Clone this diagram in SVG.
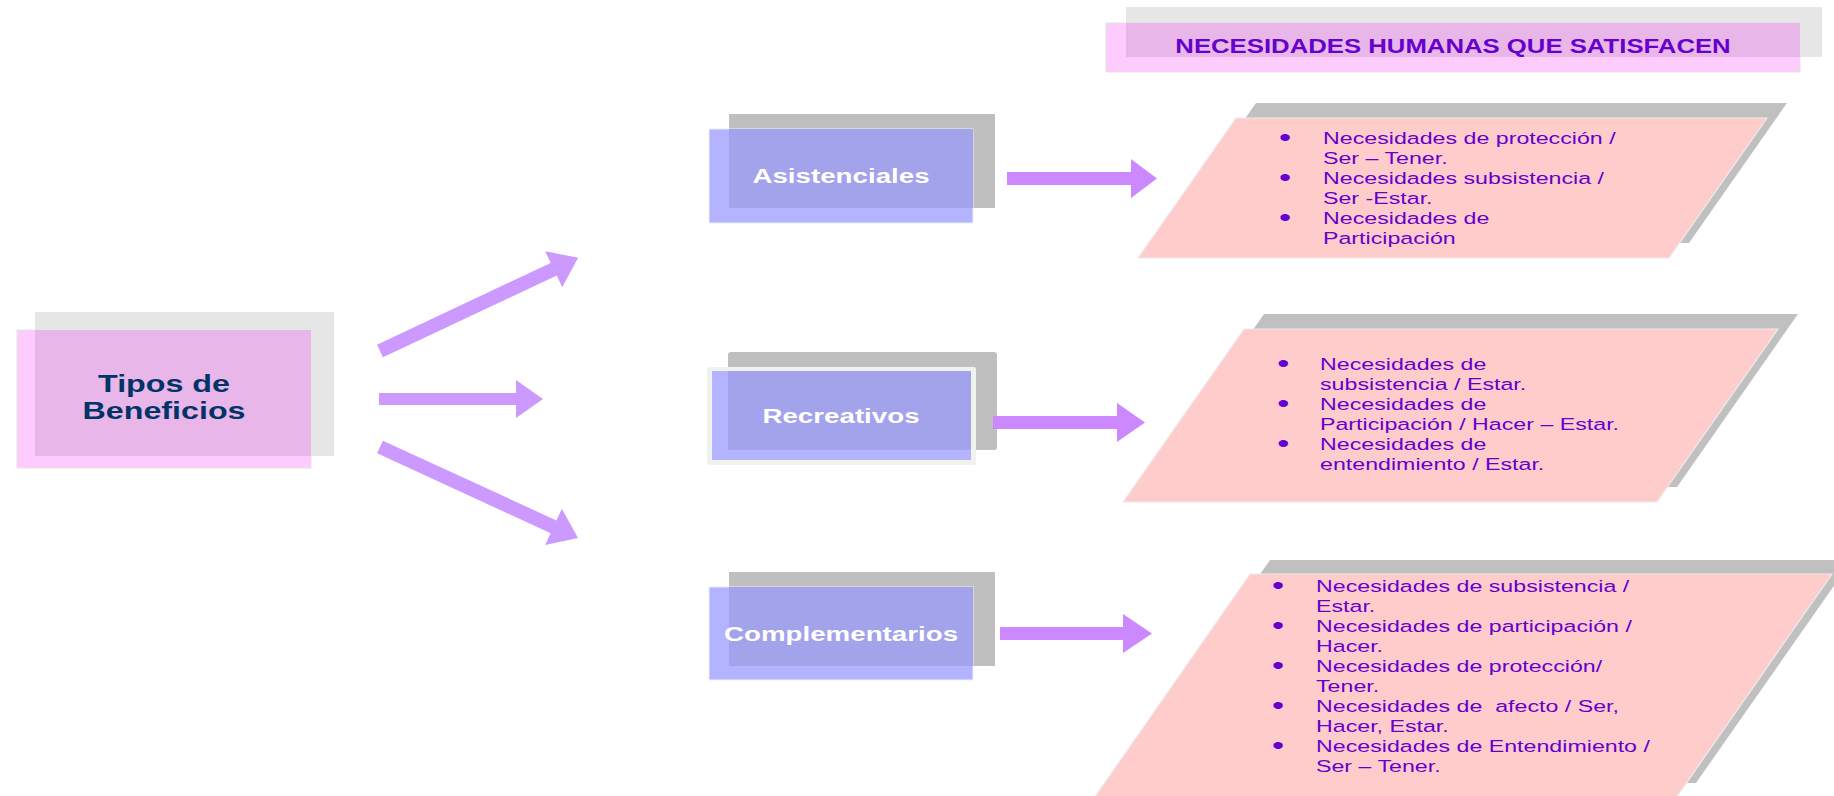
<svg xmlns="http://www.w3.org/2000/svg" width="1834" height="796" viewBox="0 0 1834 796">
<style>
text{font-family:"Liberation Sans",Arial,sans-serif}
.gl{fill:#e6e6e6}
.gd{fill:#bfbfbf}
.pl{fill:#fdcbfd;stroke:#e4e4e4;stroke-width:1}
.po{fill:#e8b6e8}
.bl{fill:#b3b3ff;stroke:#eeeefa;stroke-width:1}
.bo{fill:#a3a3eb}
.lbl{font-size:20.8px;font-weight:bold;fill:#ffffff}
.para{fill:#ffcccc;stroke:#ececec;stroke-width:1.2}
.sh{fill:#c0c0c0}
.bt{font-size:17.4px;fill:#6600cc}
.bu{font-size:26px;fill:#6600cc;text-anchor:middle}
.al{fill:#cc99ff}
.ar{fill:#cc88ff}
</style>

<g id="title">
<rect class="gl" x="1126" y="7" width="696" height="50"/>
<rect class="pl" x="1106" y="23" width="694" height="49"/>
<rect class="po" x="1126" y="23" width="674" height="34"/>
<text transform="translate(1453,53) scale(1.333,1)" text-anchor="middle" font-size="19.3" font-weight="bold" fill="#6600cc">NECESIDADES HUMANAS QUE SATISFACEN</text>
</g>

<g id="tipos">
<rect class="gl" x="35" y="312" width="299" height="144"/>
<rect class="pl" x="17" y="330" width="294" height="138"/>
<rect class="po" x="35" y="330" width="276" height="126"/>
<g transform="translate(164,0) scale(1.333,1)" font-size="24.2" font-weight="bold" fill="#003366" text-anchor="middle">
<text x="0" y="392">Tipos de</text>
<text x="0" y="419">Beneficios</text>
</g>
</g>

<g id="asistenciales">
<rect class="gd" x="729" y="114" width="266" height="94"/>
<rect class="bl" x="709" y="129" width="264" height="94"/>
<rect class="bo" x="729" y="129" width="244" height="79"/>
<text class="lbl" transform="translate(841,183) scale(1.333,1)" text-anchor="middle">Asistenciales</text>
</g>

<g id="recreativos">
<rect class="gd" x="728" y="352" width="269" height="98" rx="3"/>
<rect x="707" y="367" width="269" height="98" rx="2" fill="#f0f2ec"/>
<rect x="712" y="371" width="259" height="89" fill="#b3b3ff"/>
<rect class="bo" x="728" y="371" width="243" height="79"/>
<text class="lbl" transform="translate(841,423) scale(1.333,1)" text-anchor="middle">Recreativos</text>
</g>

<g id="complementarios">
<rect class="gd" x="729" y="572" width="266" height="94"/>
<rect class="bl" x="709" y="587" width="264" height="93"/>
<rect class="bo" x="729" y="587" width="244" height="79"/>
<text class="lbl" transform="translate(841,641) scale(1.333,1)" text-anchor="middle">Complementarios</text>
</g>

<g id="necesidades-asistenciales">
<polygon class="sh" points="1256,103 1787,103 1689,243 1158,243"/>
<polygon class="para" points="1236,118 1767,118 1669,258 1138,258"/>
<g transform="translate(1323,0) scale(1.333,1)">
<text class="bu" x="-28.5" y="146">•</text>
<text class="bu" x="-28.5" y="186">•</text>
<text class="bu" x="-28.5" y="226">•</text>
<text class="bt" x="0" y="144">Necesidades de protección /</text>
<text class="bt" x="0" y="164">Ser – Tener.</text>
<text class="bt" x="0" y="184">Necesidades subsistencia /</text>
<text class="bt" x="0" y="204">Ser -Estar.</text>
<text class="bt" x="0" y="224">Necesidades de</text>
<text class="bt" x="0" y="244">Participación</text>
</g>
</g>

<g id="necesidades-recreativos">
<polygon class="sh" points="1264,314 1798,314 1677,487 1143,487"/>
<polygon class="para" points="1244,329 1778,329 1657,502 1123,502"/>
<g transform="translate(1320,0) scale(1.333,1)">
<text class="bu" x="-27.5" y="372">•</text>
<text class="bu" x="-27.5" y="412">•</text>
<text class="bu" x="-27.5" y="452">•</text>
<text class="bt" x="0" y="370">Necesidades de</text>
<text class="bt" x="0" y="390">subsistencia / Estar.</text>
<text class="bt" x="0" y="410">Necesidades de</text>
<text class="bt" x="0" y="430">Participación / Hacer – Estar.</text>
<text class="bt" x="0" y="450">Necesidades de</text>
<text class="bt" x="0" y="470">entendimiento / Estar.</text>
</g>
</g>

<g id="necesidades-complementarios">
<polygon class="sh" points="1270,560 1852,560 1696,783 1114,783"/>
<polygon class="para" points="1250,574 1832,574 1676,798 1094,798"/>
<g transform="translate(1316,0) scale(1.333,1)">
<text class="bu" x="-28.5" y="594">•</text>
<text class="bu" x="-28.5" y="634">•</text>
<text class="bu" x="-28.5" y="674">•</text>
<text class="bu" x="-28.5" y="714">•</text>
<text class="bu" x="-28.5" y="754">•</text>
<text class="bt" x="0" y="592">Necesidades de subsistencia /</text>
<text class="bt" x="0" y="612">Estar.</text>
<text class="bt" x="0" y="632">Necesidades de participación /</text>
<text class="bt" x="0" y="652">Hacer.</text>
<text class="bt" x="0" y="672">Necesidades de protección/</text>
<text class="bt" x="0" y="692">Tener.</text>
<text class="bt" x="0" y="712" xml:space="preserve">Necesidades de  afecto / Ser,</text>
<text class="bt" x="0" y="732">Hacer, Estar.</text>
<text class="bt" x="0" y="752">Necesidades de Entendimiento /</text>
<text class="bt" x="0" y="772">Ser – Tener.</text>
</g>
</g>

<g id="connectors">
<polygon class="al" points="0,-7 192,-7 192,-20 219,0 192,20 192,7 0,7" transform="translate(380,351) rotate(-25.2)"/>
<polygon class="al" points="379,393 516,393 516,380 543,399 516,418 516,405 379,405"/>
<polygon class="al" points="0,-7 191,-7 191,-20 218,0 191,20 191,7 0,7" transform="translate(380,447) rotate(24.7)"/>
<polygon class="ar" points="1007,172 1131,172 1131,159 1157,178.5 1131,198 1131,185 1007,185"/>
<polygon class="ar" points="993,416 1117,416 1117,403 1145,422.5 1117,442 1117,429 993,429"/>
<polygon class="ar" points="1000,627 1123,627 1123,614 1152,633.5 1123,653 1123,640 1000,640"/>
</g>
</svg>
